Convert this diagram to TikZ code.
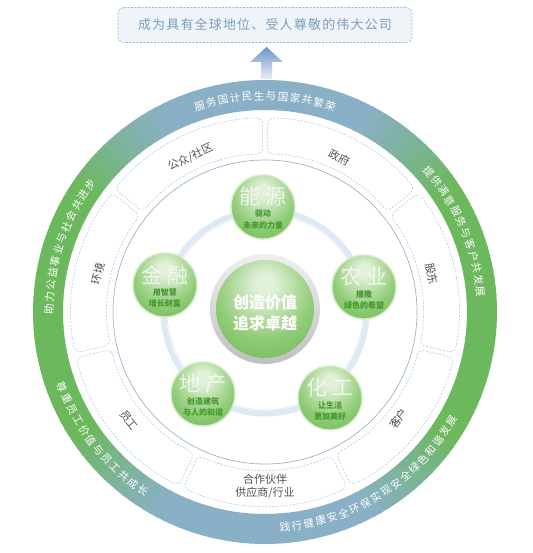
\documentclass[tikz,border=0pt]{standalone}
\usepackage{fontspec}
\newfontfamily\cjk{Noto Sans CJK SC}
\newfontfamily\cjkwide[LetterSpace=9]{Noto Sans CJK SC}
\definecolor{ringblue}{HTML}{8AB0C8}
\definecolor{ringgreen}{HTML}{6CB85C}
\definecolor{segdash}{HTML}{B3CBDF}
\definecolor{thinblue}{HTML}{9AB4CA}
\definecolor{bandblue}{HTML}{DDE9F4}
\definecolor{ballhi}{HTML}{E2F1D9}
\definecolor{ballmid}{HTML}{92CC79}
\definecolor{balledge}{HTML}{5CB142}
\definecolor{ballrimc}{HTML}{D4EDC8}
\definecolor{smallgreen}{HTML}{45992F}
\definecolor{labelgray}{HTML}{505050}
\definecolor{goalfill}{HTML}{EEF4FA}
\definecolor{goaldraw}{HTML}{9BB5CC}
\definecolor{goaltext}{HTML}{7F9DB9}
\definecolor{arrowblue}{HTML}{6D95C9}
\pgfdeclareradialshading{greenball}{\pgfpoint{0bp}{14bp}}{color(0bp)=(ballhi); color(5bp)=(ballhi); color(24bp)=(ballmid); color(46bp)=(balledge); color(70bp)=(balledge)}
\tikzset{
  ringtxt/.style={inner sep=0pt, text=white, font=\cjk\fontsize{10.5}{12}\selectfont},
  seglbl/.style={inner sep=0pt, text=labelgray, font=\cjk\fontsize{11}{13}\selectfont},
  segline/.style={draw=segdash, line width=0.6pt, dash pattern=on 2pt off 1.5pt, rounded corners=6pt},
  bigtxt/.style={inner sep=0pt, text=white, text opacity=0.7, font=\cjk\fontsize{21}{23}\selectfont},
  smalltxt/.style={inner sep=0pt, text=smallgreen, font=\cjk\bfseries\fontsize{8}{9}\selectfont},
  ballrim/.style={draw=ballrimc, line width=1.4pt},
  goalbox/.style={draw=goaldraw, fill=goalfill, dash pattern=on 2pt off 1.5pt, line width=0.6pt, rounded corners=6pt, minimum width=294pt, minimum height=35pt, text=goaltext, font=\cjkwide\fontsize{13}{15}\selectfont}
}
\newcommand\ringcw[4]{%
  \foreach \c [count=\i] in {#4} {
    \pgfmathsetmacro\ang{#2 + ((#3+1)/2 - \i)*3.2}
    \pgfmathsetmacro\rot{\ang-90}
    \node[ringtxt, rotate=\rot] (#1\i) at (\ang:216pt) {\c};
  }}
\newcommand\ringccw[4]{%
  \foreach \c [count=\i] in {#4} {
    \pgfmathsetmacro\ang{#2 - ((#3+1)/2 - \i)*3.2}
    \pgfmathsetmacro\rot{\ang+90}
    \node[ringtxt, rotate=\rot] (#1\i) at (\ang:216pt) {\c};
  }}
\newcommand\bizball[6]{%
  \begin{scope}[shift={(#1,#2)}]
    \shade[shading=greenball] (0,0) circle[radius=32pt];
    \draw[ballrim] (0,0) circle[radius=32pt];
    \node[bigtxt] (#3big) at (0,10) {#4};
    \node[smalltxt] (#3a) at (0,-7) {#5};
    \node[smalltxt] (#3b) at (0,-18) {#6};
  \end{scope}}
\begin{document}
\begin{tikzpicture}[x=1pt,y=1pt]
\useasboundingbox (-265,-241) rectangle (267,312);
% outer ring with angular colour change
\foreach \a in {0,2,...,358} {
  \pgfmathsetmacro\e{\a+2.4}
  \pgfmathsetmacro\s{abs(sin(\a+1))}
  \pgfmathtruncatemacro\b{max(0,min(100,(\s-0.55)/0.35*100))}
  \colorlet{segc}{ringblue!\b!ringgreen}
  \fill[segc] (\a:232pt) arc[start angle=\a, end angle=\e, radius=232pt] -- (\e:202pt) arc[start angle=\e, end angle=\a, radius=202pt] -- cycle;
}
% dashed stakeholder segments
\foreach \k in {0,...,6} {
  \pgfmathsetmacro\hiI{90-\k*360/7-0.85}
  \pgfmathsetmacro\loI{90-(\k+1)*360/7+0.85}
  \pgfmathsetmacro\hiO{90-\k*360/7-0.7}
  \pgfmathsetmacro\loO{90-(\k+1)*360/7+0.7}
  \draw[segline] (\loI:158pt) arc[start angle=\loI, end angle=\hiI, radius=158pt] -- (\hiO:194pt) arc[start angle=\hiO, end angle=\loO, radius=194pt] -- cycle;
}
\draw[thinblue, line width=0.7pt] (0,0) circle[radius=152pt];
\draw[bandblue, line width=7pt] (0,0) circle[radius=101pt];
\draw[white, line width=0.6pt, opacity=0.8] (0,0) circle[radius=98.5pt];
% centre
\shade[top color=gray!12, bottom color=gray!50] (0,3) circle[radius=55pt];
\shade[shading=greenball] (0,3) circle[radius=49pt];
\node[inner sep=0pt, text=white, font=\cjk\bfseries\fontsize{16}{18}\selectfont] (core1) at (0,10) {创造价值};
\node[inner sep=0pt, text=white, font=\cjk\bfseries\fontsize{16}{18}\selectfont] (core2) at (0,-11) {追求卓越};
% business circles
\bizball{-2}{105}{energy}{能\hspace{5pt}源}{驱动}{未来的力量}
\bizball{99}{25}{agri}{农\hspace{5pt}业}{播撒}{绿色的希望}
\bizball{65}{-86}{chem}{化\hspace{5pt}工}{让生活}{更加美好}
\bizball{-62}{-82}{estate}{地\hspace{5pt}产}{创造建筑}{与人的和谐}
\bizball{-100}{27}{fin}{金\hspace{5pt}融}{用智慧}{增长财富}
% stakeholder labels
\node[seglbl, rotate=-25.7] (gov) at (64.29:171pt) {政府};
\node[seglbl, rotate=25.7] (pub) at (115.71:172pt) {公众/社区};
\node[seglbl, rotate=-77.14] (share) at (12.86:171pt) {股东};
\node[seglbl, rotate=51.43] (cust) at (-38.57:171pt) {客户};
\node[seglbl, align=center] (partner) at (0,-174.5) {合作伙伴\\供应商/行业};
\node[seglbl, rotate=-51.43] (emp) at (-141.43:174pt) {员工};
\node[seglbl, rotate=77.14] (env) at (167.14:171pt) {环境};
% ring texts
\ringcw{top}{90}{12}{服,务,国,计,民,生,与,国,家,共,繁,荣}
\ringcw{rt}{23}{12}{提,供,满,意,服,务,与,客,户,共,发,展}
\ringcw{lt}{161.6}{12}{助,力,公,益,事,业,与,社,会,共,进,步}
\ringccw{lb}{218}{12}{尊,重,员,工,价,值,与,员,工,共,成,长}
\ringccw{rb}{302.5}{18}{践,行,健,康,安,全,环,保,实,现,安,全,绿,色,和,谐,发,展}
% goal box and arrow
\node[goalbox] (goal) at (0,287) {成为具有全球地位、受人尊敬的伟大公司};
\shade[top color=arrowblue, bottom color=arrowblue!15] (-15,250) -- (1.5,265) -- (18,250) -- (7,250) -- (7,233) -- (-4,233) -- (-4,250) -- cycle;
\end{tikzpicture}
\end{document}
